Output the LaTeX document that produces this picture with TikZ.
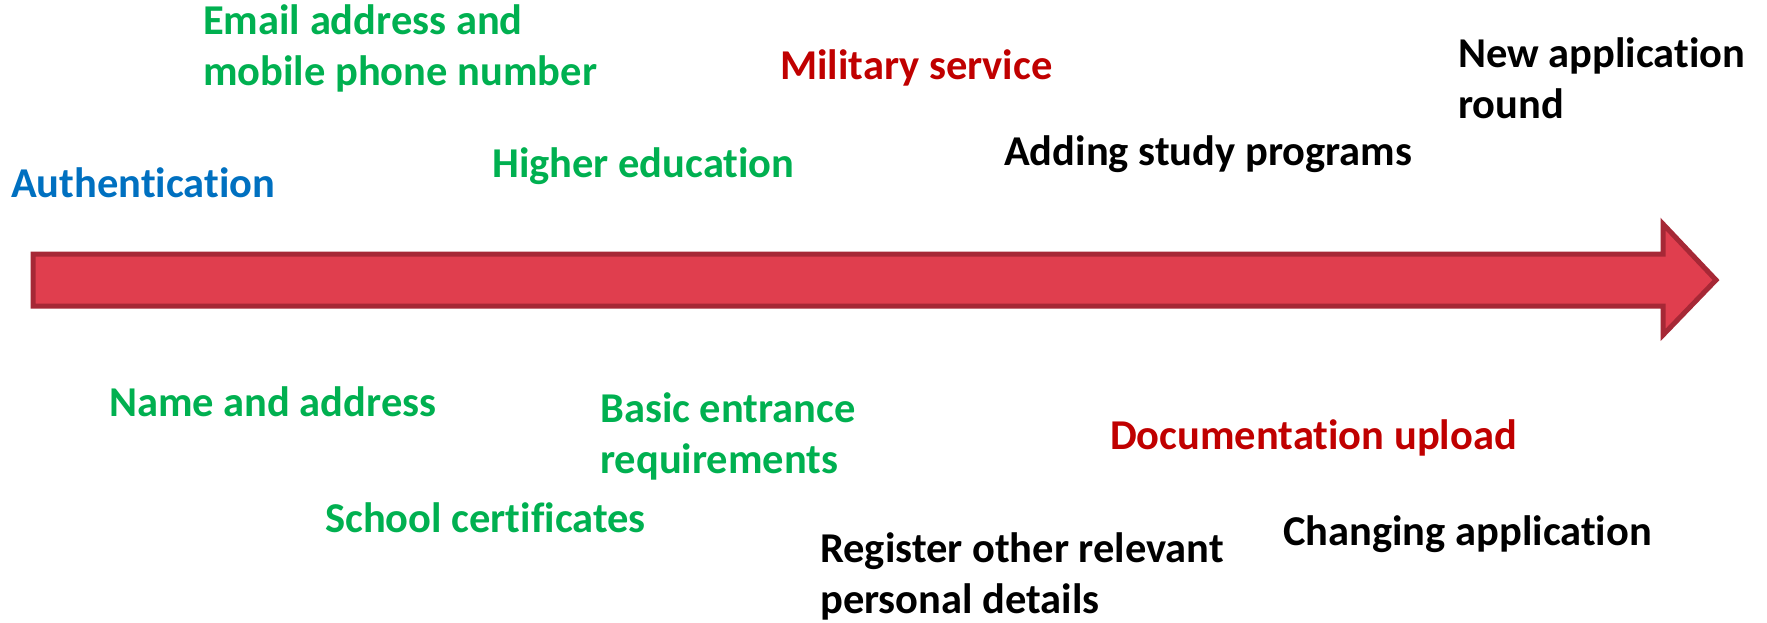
\documentclass[tikz,border=0pt]{standalone}
\usepackage{fontspec}
\setmainfont[Ligatures=NoCommon]{Carlito}
\definecolor{authblue}{RGB}{0,112,192}
\definecolor{stepgreen}{RGB}{0,176,80}
\definecolor{stepred}{RGB}{192,0,0}
\definecolor{arrowfill}{RGB}{224,62,78}
\definecolor{arrowline}{RGB}{166,40,54}
\begin{document}
\begin{tikzpicture}[x=1pt, y=-1pt,
    label/.style={anchor=west, align=left, inner sep=0pt, font=\fontsize{42.5}{51}\selectfont\bfseries},
    green/.style={label, text=stepgreen},
    red/.style={label, text=stepred},
    black/.style={label, text=black}]
    \useasboundingbox (0,0) rectangle (1767,622);
    % Arrow
    \draw[fill=arrowfill, draw=arrowline, line width=5pt, line join=miter]
      (33,254) -- (1663,254) -- (1663,224) -- (1716,280) -- (1663,335) -- (1663,306) -- (33,306) -- cycle;

    % Nodes above
    \node[label, text=authblue] (auth) at (11,183) {Authentication};
    \node[green] (email) at (203,48) {Email address and\\mobile phone number};
    \node[green] (higher) at (492,166) {Higher education};
    \node[red] (military) at (780,68) {Military service};
    \node[black] (adding) at (1004,154) {Adding study programs};
    \node[black] (round) at (1458,78) {New application\\round};

    % Nodes below
    \node[green] (name) at (109,402) {Name and address};
    \node[green] (basic) at (600,436) {Basic entrance\\requirements};
    \node[green] (school) at (325,518) {School certificates};
    \node[red] (upload) at (1110,438) {Documentation upload};
    \node[black] (changing) at (1283,534) {Changing application};
    \node[black] (register) at (820,576) {Register other relevant\\personal details};
  \end{tikzpicture}
\end{document}
